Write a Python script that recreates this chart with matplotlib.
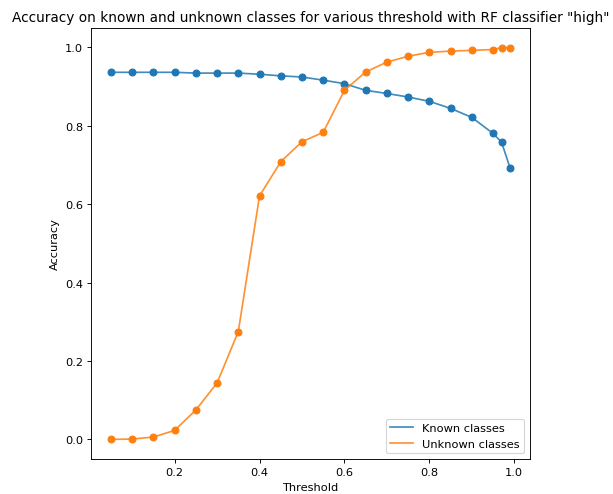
import numpy as np
import matplotlib
matplotlib.use("Agg")
import matplotlib.pyplot as plt

# thresholds tried on the RF classifier "high"
thresholds = [0.05, 0.10, 0.15, 0.20, 0.25, 0.30, 0.35, 0.40, 0.45, 0.50, 0.55,
              0.60, 0.65, 0.70, 0.75, 0.80, 0.85, 0.90, 0.95, 0.97, 0.99]

known_acc = [0.936, 0.936, 0.936, 0.936, 0.934, 0.934, 0.934, 0.931, 0.927, 0.924,
             0.916, 0.907, 0.890, 0.882, 0.873, 0.862, 0.844, 0.821, 0.780, 0.758, 0.692]

unknown_acc = [0.000, 0.001, 0.006, 0.023, 0.075, 0.144, 0.275, 0.621, 0.708, 0.759,
               0.783, 0.890, 0.937, 0.962, 0.977, 0.987, 0.990, 0.992, 0.994, 0.999, 0.999]

DPI = 82
fig = plt.figure(figsize=(613 / DPI, 495 / DPI), dpi=DPI)
ax = fig.add_axes([0.1484, 0.0707, 0.7162, 0.8707])

ax.plot(thresholds, known_acc, label="Known classes", alpha=0.85)
ax.plot(thresholds, unknown_acc, label="Unknown classes", alpha=0.85)
ax.scatter(thresholds, known_acc)
ax.scatter(thresholds, unknown_acc)

ax.set_title('Accuracy on known and unknown classes for various threshold with RF classifier "high"')
ax.set_xlabel("Threshold")
ax.set_ylabel("Accuracy")
ax.legend(loc="lower right")

fig.savefig("out.png", dpi=DPI)
